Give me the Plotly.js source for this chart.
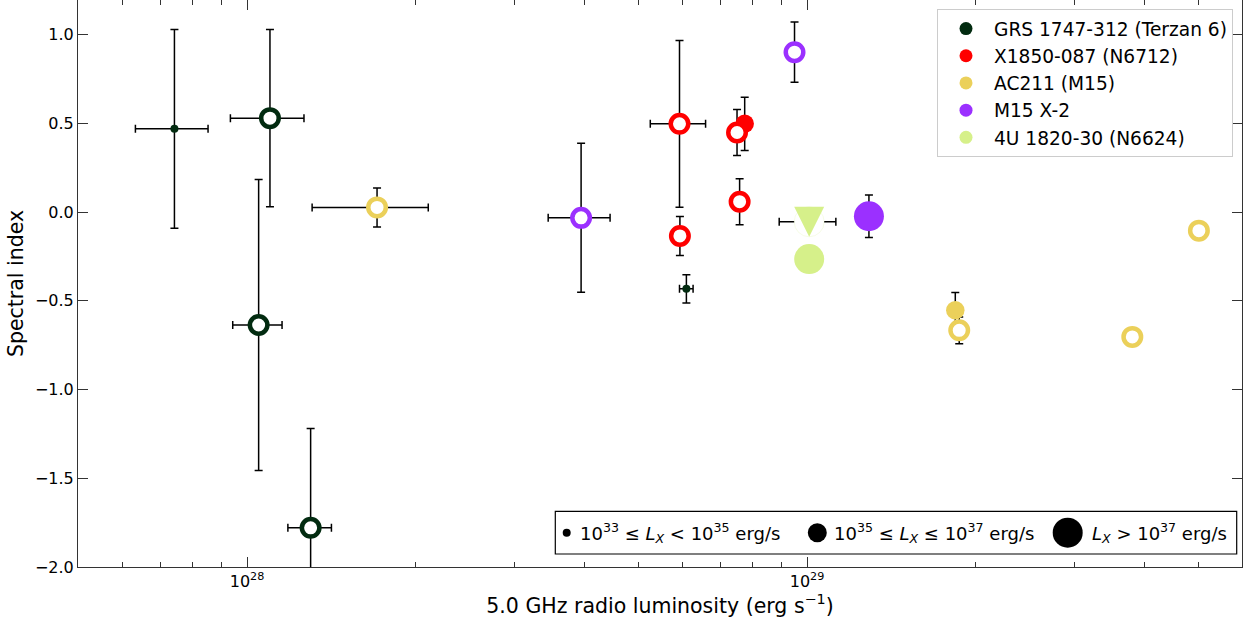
<!DOCTYPE html>
<html><head><meta charset="utf-8">
<script src="https://cdn.plot.ly/plotly-3.0.1.min.js"></script>
<style>html,body{margin:0;padding:0;background:#fff;} #chart{width:1248px;height:619px;}</style>
</head><body><div id="chart"></div>
<script>
// ---- data ----
// GRS 1747-312 (Terzan 6)
const grsX    = [7.42e27, 1.099e28, 1.049e28, 1.299e28, 6.09e28];
const grsY    = [0.47, 0.53, -0.636, -1.779, -0.432];
const grsYErr = [0.56, 0.50, 0.82, 0.56, 0.08];
const grsXErr = [1.1e27, 1.65e27, 1.06e27, 1.16e27, 1.7e27];
const grsOpen = [false, true, true, true, false];
const grsLx   = ['low', 'mid', 'mid', 'mid', 'low'];

// X1850-087 (N6712)
const redX    = [7.74e28, 5.92e28, 5.93e28, 7.5e28, 7.58e28];
const redY    = [0.498, 0.498, -0.134, 0.449, 0.059];
const redYErr = [0.15, 0.47, 0.11, 0.13, 0.13];
const redXErr = [null, 6.7e27, null, null, null];
const redOpen = [false, true, true, true, true];
const redLx   = ['mid', 'mid', 'mid', 'mid', 'mid'];

// AC211 (M15)
const acX     = [1.84e29, 1.707e28, 1.87e29, 3.81e29, 5.01e29];
const acY     = [-0.553, 0.027, -0.666, -0.703, -0.104];
const acYErr  = [0.10, 0.11, 0.075, null, null];
const acXErr  = [null, 4.0e27, null, null, null];
const acOpen  = [false, true, true, true, true];
const acLx    = ['mid', 'mid', 'mid', 'mid', 'mid'];

// M15 X-2
const m15X    = [1.29e29, 3.95e28, 9.5e28];
const m15Y    = [-0.023, -0.032, 0.902];
const m15YErr = [0.12, 0.42, 0.17];
const m15XErr = [null, 5.0e27, null];
const m15Open = [false, true, true];
const m15Lx   = ['high', 'mid', 'mid'];

// 4U 1820-30 (N6624)
const u4X     = [1.009e29, 1.009e29];
const u4Y     = [-0.054, -0.264];
const u4XErr  = [1.17e28, null];
const u4YErr  = [null, null];
const u4Limit = [true, false];
const u4Lx    = ['high', 'high'];

const sourceNames  = ['GRS 1747-312 (Terzan 6)', 'X1850-087 (N6712)', 'AC211 (M15)', 'M15 X-2', '4U 1820-30 (N6624)'];
const sourceColors = ['#022b10', '#ff0000', '#ebd05a', '#9b30ff', '#d6f08a'];

const xTickVals = [1e28, 1e29];
const xTickText = ['10<sup>28</sup>', '10<sup>29</sup>'];
const xMinorVals = [6e27, 7e27, 8e27, 9e27, 2e28, 3e28, 4e28, 5e28, 6e28, 7e28, 8e28, 9e28, 2e29, 3e29, 4e29, 5e29];
const yTickVals = [-2.0, -1.5, -1.0, -0.5, 0.0, 0.5, 1.0];

const lxLegendText = [
  '10<sup>33</sup> ≤ <i>L</i><sub><i>X</i></sub> &lt; 10<sup>35</sup> erg/s',
  '10<sup>35</sup> ≤ <i>L</i><sub><i>X</i></sub> ≤ 10<sup>37</sup> erg/s',
  '<i>L</i><sub><i>X</i></sub> > 10<sup>37</sup> erg/s'
];

// ---- styling ----
const FONT = 'DejaVu Sans';
const SIZE_FILLED = {low: 8, mid: 18.5, high: 30};
const OPEN_SIZE = 17.5, OPEN_LW = 4.5;
const nan = v => (v === null ? NaN : v);

function errStyle(arr) {
  return {type: 'data', array: arr.map(nan), symmetric: true, color: '#000', thickness: 1.5, width: 4};
}

function sourceTrace(xs, ys, yerr, xerr, open, lx, color) {
  return {
    type: 'scatter', mode: 'markers', x: xs, y: ys, showlegend: false, hoverinfo: 'x+y',
    error_y: errStyle(yerr), error_x: errStyle(xerr),
    marker: {
      symbol: 'circle', opacity: 1,
      size: open.map((o, i) => o ? OPEN_SIZE : SIZE_FILLED[lx[i]]),
      color: open.map(o => o ? '#ffffff' : color),
      line: {color: color, width: open.map(o => o ? OPEN_LW : 0)}
    }
  };
}

const traces = [];
traces.push(sourceTrace(grsX, grsY, grsYErr, grsXErr, grsOpen, grsLx, sourceColors[0]));
traces.push(sourceTrace(redX, redY, redYErr, redXErr, redOpen, redLx, sourceColors[1]));
traces.push(sourceTrace(acX, acY, acYErr, acXErr, acOpen, acLx, sourceColors[2]));
traces.push(sourceTrace(m15X, m15Y, m15YErr, m15XErr, m15Open, m15Lx, sourceColors[3]));
// 4U 1820-30: circles (white behind the limit) + down triangle for the limit
traces.push({
  type: 'scatter', mode: 'markers', x: u4X, y: u4Y, showlegend: false,
  error_x: errStyle(u4XErr), error_y: errStyle(u4YErr),
  marker: {
    symbol: 'circle', opacity: 1, size: u4Lx.map(l => SIZE_FILLED[l]),
    color: u4Limit.map(l => l ? '#ffffff' : sourceColors[4]),
    line: {color: 'rgba(214,240,138,0.35)', width: u4Limit.map(l => l ? 0.6 : 0)}
  }
});
traces.push({
  type: 'scatter', mode: 'markers', showlegend: false,
  x: u4X.filter((v, i) => u4Limit[i]), y: u4Y.filter((v, i) => u4Limit[i]),
  marker: {symbol: 'arrow-down', size: SIZE_FILLED.high, standoff: SIZE_FILLED.high / 2, opacity: 1,
           color: sourceColors[4], line: {width: 0}}
});
// legend entries
sourceNames.forEach((n, i) => traces.push({
  type: 'scatter', mode: 'markers', x: [null], y: [null], name: n, legendgroup: 'g' + i,
  marker: {size: 13, color: sourceColors[i], opacity: 1, line: {width: 0}}
}));

// ---- size legend (bottom box) drawn with shapes + annotations ----
const px2x = px => (px - 78) / 1164;
const py2y = py => (567 - py) / 567;
const sizeKeyPx = [566.7, 817.3, 1067.7];
const sizeKeyD = [SIZE_FILLED.low, 19, SIZE_FILLED.high];
const sizeTextPx = [579.3, 833.3, 1090.7];
const shapes = [{
  type: 'rect', xref: 'paper', yref: 'paper', x0: px2x(555.3), x1: px2x(1236.7), y0: py2y(554), y1: py2y(511.3),
  line: {color: '#000', width: 1.2}, fillcolor: '#ffffff', layer: 'above'
}];
const annotations = [];
sizeKeyPx.forEach((p, i) => {
  const r = sizeKeyD[i] / 2;
  shapes.push({type: 'circle', xref: 'paper', yref: 'paper', xsizemode: 'pixel', ysizemode: 'pixel',
    xanchor: px2x(p), yanchor: py2y(532.7), x0: -r, x1: r, y0: -r, y1: r,
    fillcolor: '#000', line: {width: 0}, layer: 'above'});
  annotations.push({xref: 'paper', yref: 'paper', x: px2x(sizeTextPx[i]), y: py2y(532.7),
    xanchor: 'left', yanchor: 'middle', showarrow: false, text: lxLegendText[i],
    font: {family: FONT, size: 18, color: '#000'}, borderpad: 0});
});

const axisCommon = {
  showline: true, linecolor: '#333', linewidth: 1, ticks: 'inside', ticklen: 10, tickwidth: 1, tickcolor: '#333',
  showgrid: false, zeroline: false, tickfont: {family: FONT, size: 16, color: '#000'}
};

const layout = {
  width: 1248, height: 619,
  margin: {l: 78, r: 6, t: 0, b: 52, pad: 0},
  paper_bgcolor: '#fff', plot_bgcolor: '#fff',
  font: {family: FONT, color: '#000'},
  xaxis: Object.assign({}, axisCommon, {
    type: 'log', range: [27.6982, 29.7768], mirror: 'ticks',
    tickmode: 'array', tickvals: xTickVals, ticktext: xTickText,
    minor: {tickmode: 'array', tickvals: xMinorVals, ticks: 'inside', ticklen: 5, tickwidth: 1, tickcolor: '#333', showgrid: false},
    title: {text: '5.0 GHz radio luminosity (erg s<sup>−1</sup>)', font: {family: FONT, size: 20.5, color: '#000'}, standoff: 8}
  }),
  yaxis: Object.assign({}, axisCommon, {
    range: [-2.0, 1.196], mirror: 'allticks',
    tickmode: 'array', tickvals: yTickVals, ticktext: yTickVals.map(v => (v < 0 ? '−' : '') + Math.abs(v).toFixed(1)),
    title: {text: 'Spectral index', font: {family: FONT, size: 20.5, color: '#000'}, standoff: 5}
  }),
  legend: {
    x: px2x(1233), y: py2y(9), xanchor: 'right', yanchor: 'top',
    bgcolor: 'rgba(255,255,255,0.8)', bordercolor: '#cccccc', borderwidth: 1,
    font: {family: FONT, size: 18.6, color: '#000'}, traceorder: 'grouped', tracegroupgap: 0,
    itemwidth: 46, indentation: 0
  },
  shapes: shapes, annotations: annotations, showlegend: true
};

Plotly.newPlot('chart', traces, layout, {displayModeBar: false, staticPlot: true});
</script>
</body></html>
